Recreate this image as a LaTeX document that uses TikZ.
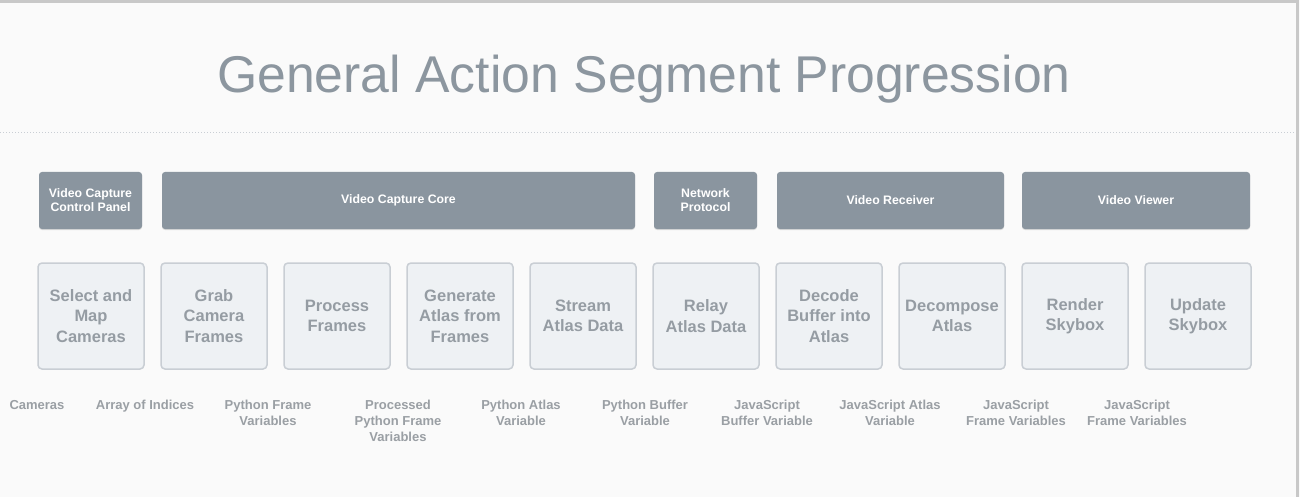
\documentclass[tikz,border=0pt]{standalone}
\usepackage{fontspec}
\setmainfont{Liberation Sans}
\definecolor{bg}{HTML}{FAFAFA}
\definecolor{topfill}{HTML}{8A959F}
\definecolor{botfill}{HTML}{EEF1F4}
\definecolor{botdraw}{HTML}{C9CED4}
\definecolor{bottext}{HTML}{959CA3}
\definecolor{titletext}{HTML}{8C969F}
\definecolor{labtext}{HTML}{9A9FA4}
\definecolor{framecol}{HTML}{C8C8C8}
\usetikzlibrary{shadows}
\tikzset{
  topbox/.style={fill=topfill, rounded corners=3pt, minimum height=57pt, inner sep=0pt,
    text=white, font=\fontsize{12.3}{14}\selectfont\bfseries, align=center,
    drop shadow={shadow xshift=0pt, shadow yshift=-1pt, opacity=0.25}},
  actbox/.style={fill=botfill, draw=botdraw, line width=1.5pt, rounded corners=4pt,
    minimum width=106pt, minimum height=106pt, inner sep=0pt, text=bottext,
    font=\fontsize{16.5}{20.5}\selectfont\bfseries, align=center},
  datalab/.style={anchor=north, text=labtext, align=center, inner sep=0pt,
    font=\fontsize{13}{16}\selectfont\bfseries}
}
\begin{document}
\begin{tikzpicture}[x=1pt,y=-1pt]
\useasboundingbox (0,0) rectangle (1300,497);
\fill[bg] (0,0) rectangle (1300,497);
\draw[framecol, line width=2.5pt] (0,1.5) -- (1297.5,1.5) -- (1297.5,497);
\node[text=titletext, font=\fontsize{51.7}{60}\selectfont, anchor=base] (title) at (644,93) {General Action Segment Progression};
\draw[botdraw, line width=1pt, dotted] (0,133) -- (1295,133);
% top boxes
\node[topbox, minimum width=103pt] (vccp) at (90.5,200.5) {Video Capture\\Control Panel};
\node[topbox, minimum width=473pt] (vcc) at (398.5,200.5) {Video Capture Core};
\node[topbox, minimum width=103pt] (np) at (705.5,200.5) {Network\\Protocol};
\node[topbox, minimum width=227pt] (vr) at (890.5,200.5) {Video Receiver};
\node[topbox, minimum width=228pt] (vv) at (1136,200.5) {Video Viewer};
% action boxes
\node[actbox] (a1) at (91,316) {Select and\\Map\\Cameras};
\node[actbox] (a2) at (214,316) {Grab\\Camera\\Frames};
\node[actbox] (a3) at (337,316) {Process\\Frames};
\node[actbox] (a4) at (460,316) {Generate\\Atlas from\\Frames};
\node[actbox] (a5) at (583,316) {Stream\\Atlas Data};
\node[actbox] (a6) at (706,316) {Relay\\Atlas Data};
\node[actbox] (a7) at (829,316) {Decode\\Buffer into\\Atlas};
\node[actbox] (a8) at (952,316) {Decompose\\Atlas};
\node[actbox] (a9) at (1075,316) {Render\\Skybox};
\node[actbox] (a10) at (1198,316) {Update\\Skybox};
% data labels
\node[datalab] (d0) at (37,400) {Cameras};
\node[datalab] (d1) at (145,400) {Array of Indices};
\node[datalab] (d2) at (268,400) {Python Frame\\Variables};
\node[datalab] (d3) at (398,400) {Processed\\Python Frame\\Variables};
\node[datalab] (d4) at (521,400) {Python Atlas\\Variable};
\node[datalab] (d5) at (645,400) {Python Buffer\\Variable};
\node[datalab] (d6) at (767,400) {JavaScript\\Buffer Variable};
\node[datalab] (d7) at (890,400) {JavaScript Atlas\\Variable};
\node[datalab] (d8) at (1016,400) {JavaScript\\Frame Variables};
\node[datalab] (d9) at (1137,400) {JavaScript\\Frame Variables};
\end{tikzpicture}
\end{document}
